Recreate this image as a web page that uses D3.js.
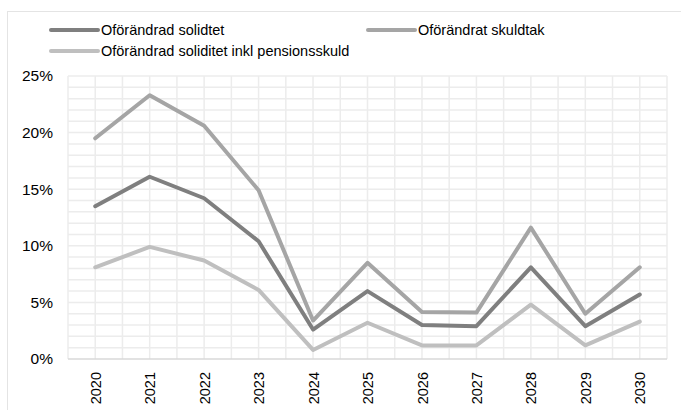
<!DOCTYPE html>
<html>
<head>
<meta charset="utf-8">
<script src="https://cdn.jsdelivr.net/npm/d3@7"></script>
<style>
  body { margin: 0; background: #fff; }
  svg { display: block; font-family: "Liberation Sans", Arial, sans-serif; }
</style>
</head>
<body>
<div id="chart"></div>
<script>
// Data
const years = ["2020", "2021", "2022", "2023", "2024", "2025", "2026", "2027", "2028", "2029", "2030"];
const solidtet = [13.5, 16.1, 14.2, 10.4, 2.6, 6.0, 3.0, 2.9, 8.1, 2.9, 5.7];
const skuldtak = [19.5, 23.3, 20.6, 14.9, 3.4, 8.5, 4.15, 4.1, 11.6, 4.0, 8.1];
const pension = [8.1, 9.9, 8.7, 6.1, 0.8, 3.2, 1.2, 1.2, 4.8, 1.2, 3.3];
const yTicks = [0, 5, 10, 15, 20, 25];

const series = [
  { name: "Oförändrad solidtet", values: solidtet, color: "#7f7f7f" },
  { name: "Oförändrat skuldtak", values: skuldtak, color: "#a5a5a5" },
  { name: "Oförändrad soliditet inkl pensionsskuld", values: pension, color: "#bfbfbf" }
];

const width = 681, height = 410;
const margin = { top: 76, right: 14, bottom: 51, left: 68 };

const svg = d3.select("#chart").append("svg")
  .attr("width", width)
  .attr("height", height);

// outer chart border
svg.append("rect")
  .attr("x", 7.5).attr("y", 11.5)
  .attr("width", width + 10).attr("height", height + 10)
  .attr("fill", "none")
  .attr("stroke", "#e4e4e4");

const x = d3.scalePoint()
  .domain(years)
  .range([margin.left, width - margin.right])
  .padding(0.5);

const y = d3.scaleLinear()
  .domain([0, 25])
  .range([height - margin.bottom, margin.top]);

// vertical grid at category centres and boundaries
const step = x.step();
const xGrid = d3.range(0, years.length * 2 + 1).map(i => margin.left + i * step / 2);
svg.append("g")
  .selectAll("line")
  .data(xGrid)
  .join("line")
    .attr("x1", d => d).attr("x2", d => d)
    .attr("y1", y(25)).attr("y2", y(0))
    .attr("stroke", "#ececec")
    .attr("stroke-width", 1.5);

// horizontal grid every 1%
svg.append("g")
  .selectAll("line")
  .data(d3.range(1, 26))
  .join("line")
    .attr("x1", margin.left).attr("x2", width - margin.right)
    .attr("y1", d => y(d)).attr("y2", d => y(d))
    .attr("stroke", "#ececec")
    .attr("stroke-width", 1.5);

// zero axis line
svg.append("line")
  .attr("x1", margin.left).attr("x2", width - margin.right)
  .attr("y1", y(0)).attr("y2", y(0))
  .attr("stroke", "#d9d9d9")
  .attr("stroke-width", 1.5);

// y axis
svg.append("g")
  .attr("transform", `translate(${margin.left},0)`)
  .call(d3.axisLeft(y).tickValues(yTicks).tickSize(0).tickPadding(15).tickFormat(d => d + "%"))
  .call(g => g.select(".domain").remove())
  .call(g => g.selectAll("text")
    .attr("font-size", "15.5px")
    .attr("font-family", "Liberation Sans, Arial, sans-serif")
    .attr("fill", "#000"));

// x axis, rotated labels
svg.append("g")
  .attr("transform", `translate(0,${y(0)})`)
  .call(d3.axisBottom(x).tickSize(0))
  .call(g => g.select(".domain").remove())
  .call(g => g.selectAll("text")
    .attr("font-size", "14.5px")
    .attr("font-family", "Liberation Sans, Arial, sans-serif")
    .attr("fill", "#000")
    .attr("transform", "rotate(-90)")
    .attr("text-anchor", "end")
    .attr("x", -13)
    .attr("y", 0)
    .attr("dy", "0.35em"));

// lines
const line = d3.line()
  .x((d, i) => x(years[i]))
  .y(d => y(d));

svg.append("g")
  .selectAll("path")
  .data(series)
  .join("path")
    .attr("d", d => line(d.values))
    .attr("fill", "none")
    .attr("stroke", d => d.color)
    .attr("stroke-width", 4)
    .attr("stroke-linejoin", "round")
    .attr("stroke-linecap", "round");

// legend
const legendPos = [
  { x: 51, y: 30 },
  { x: 368, y: 30 },
  { x: 51, y: 51 }
];
const legend = svg.append("g")
  .selectAll("g")
  .data(series)
  .join("g")
    .attr("transform", (d, i) => `translate(${legendPos[i].x},${legendPos[i].y})`);

legend.append("line")
  .attr("x1", 0).attr("x2", 47)
  .attr("y1", 0).attr("y2", 0)
  .attr("stroke", d => d.color)
  .attr("stroke-width", 4)
  .attr("stroke-linecap", "round");

legend.append("text")
  .attr("x", 50)
  .attr("y", 0)
  .attr("dy", "0.35em")
  .attr("font-size", "14.5px")
  .attr("fill", "#000")
  .text(d => d.name);
</script>
</body>
</html>
